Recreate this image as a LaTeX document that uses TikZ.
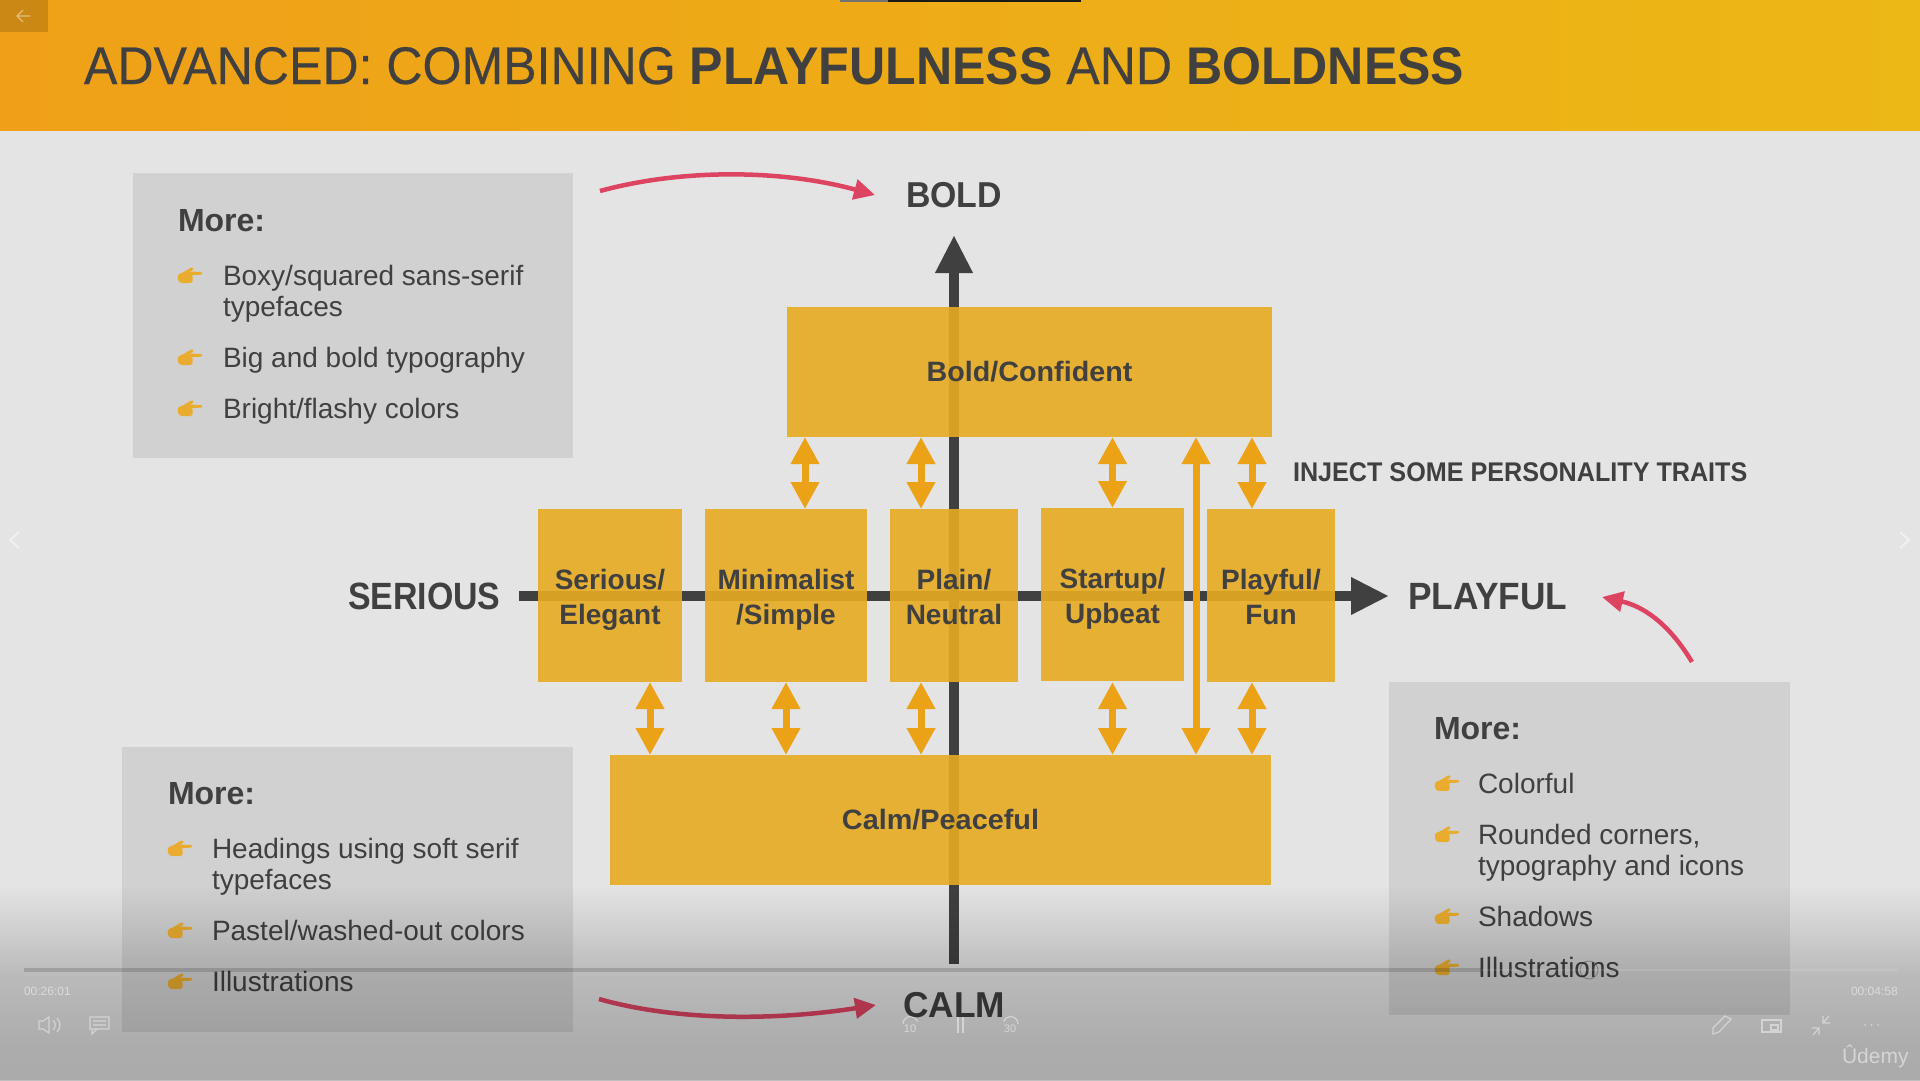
\documentclass[tikz,border=0pt]{standalone}
\usepackage{fontspec}
\setmainfont{Liberation Sans}
\usetikzlibrary{arrows.meta,fadings,calc}
\definecolor{ink}{HTML}{404040}
\definecolor{pagebg}{HTML}{E4E4E4}
\definecolor{panel}{HTML}{D1D1D1}
\definecolor{amber}{HTML}{E7AB22}
\definecolor{arrowamber}{HTML}{EBA216}
\definecolor{crimson}{HTML}{DC4462}
\definecolor{handcol}{HTML}{E9AC2F}
\definecolor{headL}{HTML}{EFA018}
\definecolor{headM}{HTML}{EAAA10}
\definecolor{headR}{HTML}{ECB816}
\tikzfading[name=fadeA, top color=transparent!100, bottom color=transparent!82]
\tikzfading[name=fadeB, top color=transparent!82, bottom color=transparent!76]
\tikzfading[name=fadeC, top color=transparent!76, bottom color=transparent!75]
\newcommand{\sx}[2]{\scalebox{#1}[1]{#2}}
\newcommand{\tline}[1]{\rule[-6pt]{0pt}{35pt}#1}
\newfontfamily\titlefont[FakeBold=0.35]{Liberation Sans}
\tikzset{
  x=1pt,y=-1pt,
  every node/.style={inner sep=0pt,outer sep=0pt,text=ink},
  trait/.style={fill=amber,fill opacity=.9,text opacity=1,align=center,
    font=\fontsize{28}{35}\selectfont\bfseries},
  panelbox/.style={fill=panel},
  axisline/.style={draw=ink,line width=10pt},
  axishead/.style={-{Triangle[width=35pt,length=38pt]}},
  twoway/.style={draw=arrowamber,line width=7pt,
    {Triangle[width=27pt,length=27pt]}-{Triangle[width=27pt,length=27pt]}},
  swoosh/.style={draw=crimson,line width=4.5pt,-{Triangle[width=20pt,length=21pt]}},
  more/.style={anchor=base west,font=\fontsize{32}{38}\selectfont\bfseries},
  item/.style={anchor=base west,font=\fontsize{28}{32}\selectfont},
  pole/.style={anchor=base,font=\fontsize{36}{42}\selectfont\bfseries},
  pole big/.style={anchor=base west,font=\fontsize{38}{44}\selectfont\bfseries},
  ui/.style={draw=white,draw opacity=.45,line width=1.2pt},
  uitext/.style={text=white,text opacity=.5},
  hand/.pic={
    \fill[handcol,rounded corners=3pt] (0,8) -- (6,5) -- (15,5) -- (16,16) -- (2,16) -- cycle;
    \fill[handcol,rounded corners=1pt] (11,4.5) -- (25,5) -- (25,7.5) -- (11,8.5) -- cycle;
    \fill[handcol,rounded corners=1pt] (5,6) -- (15,0) -- (17,2) -- (10,7) -- cycle;
  },
}
\begin{document}
\begin{tikzpicture}
\useasboundingbox (0,0) rectangle (1920,1080);
\fill[pagebg] (0,0) rectangle (1920,1080);
% header
\shade[left color=headL,middle color=headM,right color=headR] (0,0) rectangle (1920,130);
\fill[black!55] (840,0) rectangle (888,1.5);
\fill[black!90] (888,0) rectangle (1081,1.5);
\fill[black,opacity=.15] (0,0) rectangle (48,32);
\node[anchor=base west,font=\fontsize{53}{60}\selectfont] (title) at (84,84)
  {\sx{.945}{{\titlefont ADVANCED: COMBINING} \textbf{PLAYFULNESS} {\titlefont AND} \textbf{BOLDNESS}}};
% panels
\fill[panelbox] (133,173) rectangle (573,458);
\fill[panelbox] (122,747) rectangle (573,1032);
\fill[panelbox] (1389,682) rectangle (1790,1015);
% axes
\coordinate (axisTop) at (954,235);
\coordinate (axisBottom) at (954,964);
\coordinate (axisLeft) at (519,596);
\coordinate (axisRight) at (1389,596);
\draw[axisline,axishead] (axisBottom) -- (axisTop);
\draw[axisline,axishead] (axisLeft) -- (axisRight);
% trait boxes
\node[trait,minimum width=485pt,minimum height=130pt] (bold) at (1029.5,372) {\sx{1.025}{Bold/Confident}};
\node[trait,minimum width=661pt,minimum height=130pt] (calm) at (940.5,820) {\sx{1.03}{Calm/Peaceful}};
\node[trait,minimum width=144pt,minimum height=173pt] (serious) at (610,595.5) {\tline{Serious/}\\\tline{Elegant}};
\node[trait,minimum width=162pt,minimum height=173pt] (minimal) at (786,595.5) {\tline{Minimalist}\\\tline{/Simple}};
\node[trait,minimum width=128pt,minimum height=173pt] (plain) at (954,595.5) {\tline{Plain/}\\\tline{Neutral}};
\node[trait,minimum width=143pt,minimum height=173pt] (startup) at (1112.5,594.5) {\tline{Startup/}\\\tline{Upbeat}};
\node[trait,minimum width=128pt,minimum height=173pt] (playful) at (1271,595.5) {\tline{Playful/}\\\tline{Fun}};
% two-way arrows
\draw[twoway] (805,0 |- bold.south) -- (805,0 |- minimal.north);
\draw[twoway] (921,0 |- bold.south) -- (921,0 |- plain.north);
\draw[twoway] (1112.5,0 |- bold.south) -- (1112.5,0 |- startup.north);
\draw[twoway] (1252,0 |- bold.south) -- (1252,0 |- playful.north);
\draw[twoway] (1196,0 |- bold.south) -- (1196,0 |- calm.north);
\draw[twoway] (650,0 |- serious.south) -- (650,0 |- calm.north);
\draw[twoway] (786,0 |- minimal.south) -- (786,0 |- calm.north);
\draw[twoway] (921,0 |- plain.south) -- (921,0 |- calm.north);
\draw[twoway] (1112.5,0 |- playful.south) -- (1112.5,0 |- calm.north);
\draw[twoway] (1252,0 |- playful.south) -- (1252,0 |- calm.north);
% pole labels
\node[pole] (lblBold) at (954,207) {\sx{.94}{BOLD}};
\node[pole] (lblCalm) at (954,1017) {\sx{.98}{CALM}};
\node[pole big] (lblSerious) at (348,609) {\sx{.892}{SERIOUS}};
\node[pole big] (lblPlayful) at (1408,609) {\sx{.928}{PLAYFUL}};
\node[anchor=base west,font=\fontsize{27}{32}\selectfont\bfseries] (inject) at (1293,481) {\sx{.932}{INJECT SOME PERSONALITY TRAITS}};
% red arrows
\coordinate (redAs) at (600,191); \coordinate (redAe) at (875,195);
\coordinate (redBs) at (599,999); \coordinate (redBe) at (876,1005);
\coordinate (redCs) at (1692,662); \coordinate (redCe) at (1602,597);
\draw[swoosh] (redAs) .. controls (680,169) and (780,169) .. (redAe);
\draw[swoosh] (redBs) .. controls (680,1022) and (780,1020) .. (redBe);
\draw[swoosh] (redCs) .. controls (1668,622) and (1642,606) .. (redCe);
% panel 1
\node[more] (m1) at (178,231) {More:};
\pic at (177,267) {hand};
\node[item] (a1) at (223,285) {Boxy/squared sans-serif};
\node[item] (a2) at (223,316) {typefaces};
\pic at (177,349) {hand};
\node[item] (a3) at (223,367) {Big and bold typography};
\pic at (177,400) {hand};
\node[item] (a4) at (223,418) {Bright/flashy colors};
% panel 2
\node[more] (m2) at (168,804) {More:};
\pic at (167,840) {hand};
\node[item] (b1) at (212,858) {Headings using soft serif};
\node[item] (b2) at (212,889) {typefaces};
\pic at (167,922) {hand};
\node[item] (b3) at (212,940) {Pastel/washed-out colors};
\pic at (167,973) {hand};
\node[item] (b4) at (212,991) {Illustrations};
% panel 3
\node[more] (m3) at (1434,739) {More:};
\pic at (1434,775) {hand};
\node[item] (c1) at (1478,793) {Colorful};
\pic at (1434,826) {hand};
\node[item] (c2) at (1478,844) {Rounded corners,};
\node[item] (c3) at (1478,875) {typography and icons};
\pic at (1434,908) {hand};
\node[item] (c4) at (1478,926) {Shadows};
\pic at (1434,959) {hand};
\node[item] (c5) at (1478,977) {Illustrations};
% video overlay
\fill[black,path fading=fadeA] (-20,885) rectangle (1940,975);
\fill[black,path fading=fadeB] (-20,975) rectangle (1940,1040);
\fill[black,path fading=fadeC] (-20,1040) rectangle (1940,1082);
\fill[black,opacity=.15] (24,968) rectangle (1481,972);
\fill[white,opacity=.1] (1481,969) rectangle (1898,971);
\draw[black,opacity=.25,line width=1pt] (1589,970) circle (9);
% player controls
\draw[ui] (30,16) -- (17,16) (23,10) -- (17,16) -- (23,22);
\draw[ui,line width=2pt] (19,532) -- (10,540) -- (19,548);
\draw[ui,line width=2pt] (1900,532) -- (1909,540) -- (1900,548);
\node[uitext,anchor=base west,font=\fontsize{12}{14}\selectfont] (tl) at (24,995) {00:26:01};
\node[uitext,anchor=base west,font=\fontsize{12}{14}\selectfont] (tr) at (1851,995) {00:04:58};
\draw[ui] (39,1021) -- (43,1021) -- (49,1017) -- (49,1033) -- (43,1029) -- (39,1029) -- cycle;
\draw[ui] (53,1020) .. controls (56,1023) and (56,1027) .. (53,1030);
\draw[ui] (57,1018) .. controls (61,1022) and (61,1028) .. (57,1032);
\draw[ui] (90,1017) rectangle (109,1029) (92,1029) -- (92,1034) -- (97,1029) (93,1021) -- (106,1021) (93,1025) -- (106,1025);
\draw[ui] (903,1024) arc (-180:-20:7.5);
\node[uitext,font=\fontsize{11}{12}\selectfont] (back10) at (910,1029) {10};
\draw[ui,line width=2pt] (958,1017) -- (958,1033) (963,1017) -- (963,1033);
\draw[ui] (1018,1024) arc (0:-160:7.5);
\node[uitext,font=\fontsize{11}{12}\selectfont] (fwd30) at (1010,1029) {30};
\draw[ui] (1713,1034) -- (1713,1028) -- (1725,1016) -- (1731,1019) -- (1719,1032) -- cycle;
\draw[ui] (1762,1020) rectangle (1781,1032);
\draw[ui] (1771,1025) rectangle (1778,1030);
\draw[ui] (1829,1016) -- (1823,1023) (1823,1016) -- (1823,1023) -- (1830,1023);
\draw[ui] (1813,1035) -- (1819,1028) (1819,1035) -- (1819,1028) -- (1812,1028);
\fill[white,opacity=.45] (1865,1025) circle (1) (1871.5,1025) circle (1) (1878,1025) circle (1);
\node[uitext,anchor=base west,font=\fontsize{21}{24}\selectfont] (logo) at (1842,1063) {Ûdemy};
\end{tikzpicture}
\end{document}
